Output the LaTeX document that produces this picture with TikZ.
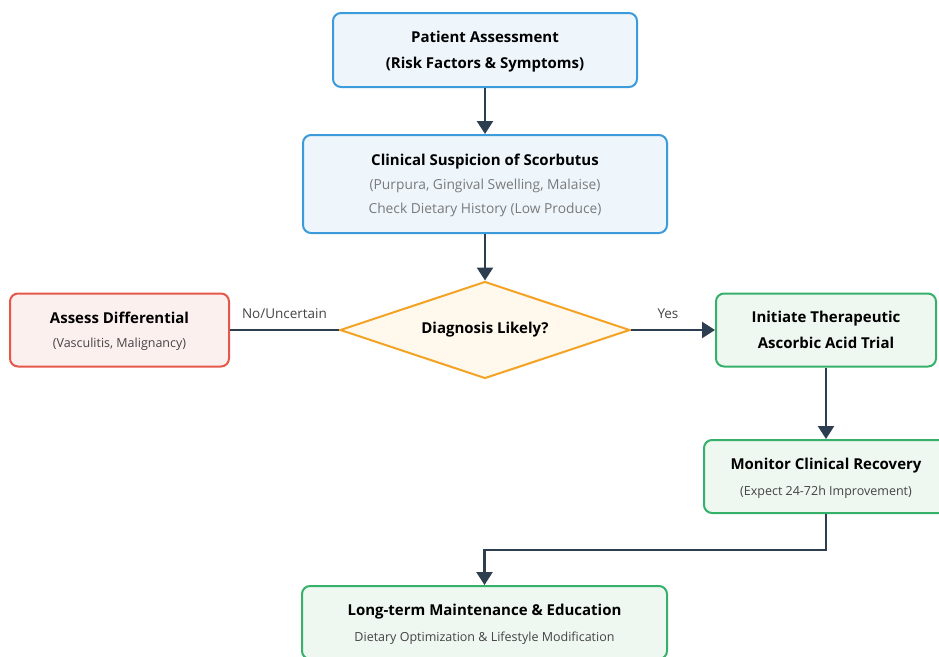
\documentclass[tikz,border=0pt]{standalone}
\usepackage{fontspec}
\setmainfont{Open Sans}
\usepackage{xcolor}
\usetikzlibrary{shapes, arrows.meta, positioning, calc}

\definecolor{bluedraw}{HTML}{3B9BDB}
\definecolor{bluefill}{HTML}{EEF6FC}
\definecolor{reddraw}{HTML}{E5574B}
\definecolor{redfill}{HTML}{FCF0EF}
\definecolor{greendraw}{HTML}{36B16A}
\definecolor{greenfill}{HTML}{EEF7F0}
\definecolor{orangedraw}{HTML}{F4A224}
\definecolor{orangefill}{HTML}{FFF8EC}
\definecolor{linkcol}{HTML}{2C3E50}
\definecolor{subgray}{HTML}{7A7A7A}
\definecolor{subdark}{HTML}{444444}

\newcommand{\headfont}{\fontsize{15}{18}\selectfont\bfseries}
\newcommand{\notefont}{\fontsize{13.8}{18}\selectfont\color{subgray}}
\newcommand{\smallnote}{\fontsize{12.5}{18}\selectfont\color{subdark}}

\begin{document}
\begin{tikzpicture}[
    x=1pt, y=-1pt,
    % Styles
    stage/.style={rectangle, rounded corners=8pt, line width=2pt, align=center, inner sep=2pt, text depth=0pt},
    bluebox/.style={stage, draw=bluedraw, fill=bluefill},
    redbox/.style={stage, draw=reddraw, fill=redfill},
    greenbox/.style={stage, draw=greendraw, fill=greenfill},
    decision/.style={diamond, aspect=3, draw=orangedraw, fill=orangefill, line width=2pt, minimum width=290pt, minimum height=97pt, inner sep=0pt, font=\headfont},
    arrow/.style={-{Triangle[width=16pt,length=13pt]}, line width=2.5pt, draw=linkcol},
    link/.style={line width=2.5pt, draw=linkcol},
    branch/.style={font=\fontsize{13.5}{16}\selectfont, text=subdark}
]
    \useasboundingbox (0,0) rectangle (939,656);

    % --- Top: assessment and suspicion ---
    \node[bluebox, minimum width=304pt, minimum height=74pt, font=\headfont] (assess) at (485,50)
        {Patient Assessment\\[8pt]\headfont(Risk Factors \& Symptoms)};
    \node[bluebox, minimum width=364pt, minimum height=98pt] (suspect) at (485,184)
        {\headfont Clinical Suspicion of Scorbutus\\[9pt]
         \notefont(Purpura, Gingival Swelling, Malaise)\\[9pt]
         \notefont Check Dietary History (Low Produce)};

    % --- Middle: decision ---
    \node[decision] (diag) at (485,330) {Diagnosis Likely?};

    \node[redbox, minimum width=219pt, minimum height=73pt] (diff) at (119.5,330)
        {\headfont Assess Differential\\[12pt]
         \smallnote(Vasculitis, Malignancy)};
    \node[greenbox, minimum width=220pt, minimum height=73pt, font=\headfont] (trial) at (826,330)
        {Initiate Therapeutic\\[8pt]\headfont Ascorbic Acid Trial};

    % --- Bottom: follow-up ---
    \node[greenbox, minimum width=244pt, minimum height=73pt] (monitor) at (826,476.5)
        {\headfont Monitor Clinical Recovery\\[12pt]
         \smallnote(Expect 24-72h Improvement)};
    \node[greenbox, minimum width=365pt, minimum height=73pt] (maint) at (484.5,622.5)
        {\headfont Long-term Maintenance \& Education\\[12pt]
         \smallnote Dietary Optimization \& Lifestyle Modification};

    % --- Connections ---
    \draw[arrow] (assess) -- (suspect);
    \draw[arrow] (suspect) -- (diag);
    \draw[link] (diag.west) -- node[branch, above=7pt, pos=0.5] {No/Uncertain} (diff.east);
    \draw[arrow] (diag.east) -- node[branch, above=7pt, pos=0.44] {Yes} (trial.west);
    \draw[arrow] (trial) -- (monitor);
    \draw[arrow] (monitor.south) -- ++(0,36) -| (maint.north);

\end{tikzpicture}
\end{document}
